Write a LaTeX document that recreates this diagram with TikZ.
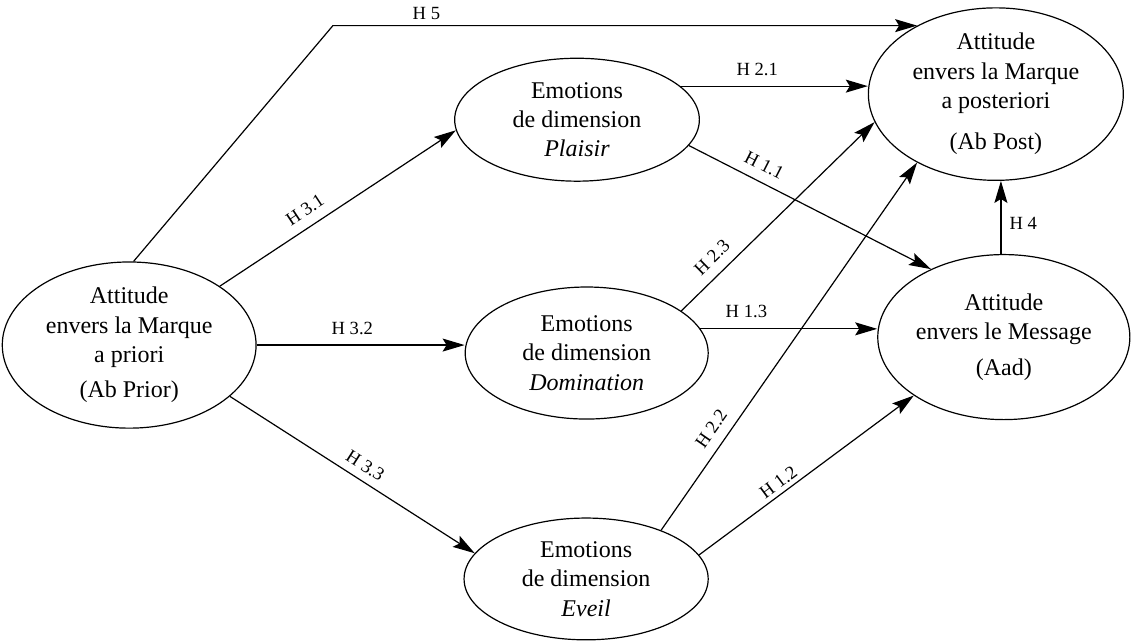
\documentclass[tikz,border=0pt]{standalone}
\usepackage{fontspec}
\setmainfont{Liberation Serif}
\usetikzlibrary{arrows.meta}
\usetikzlibrary{shapes.geometric}

\begin{document}
\begin{tikzpicture}
    \tikzstyle{construct}=[draw,ellipse,line width=0.6pt,inner sep=0pt,align=center,font=\fontsize{12}{14.7}\selectfont]
    \tikzstyle{hyp}=[draw,line width=0.6pt,-{Stealth[length=11pt,width=6.5pt,inset=2pt]}]
    \tikzstyle{hlabel}=[font=\fontsize{9.3}{11}\selectfont,inner sep=2pt]

    % page frame
    \useasboundingbox (0,0) rectangle (19.875,11.264);

    % brand attitude before exposure
    \node[construct,minimum width=4.46cm,minimum height=2.92cm] (prior) at (2.27,5.20)
      {Attitude\\envers la Marque\\a priori\\[3pt](Ab Prior)};

    % the three emotion dimensions
    \node[construct,minimum width=4.30cm,minimum height=2.16cm] (plaisir) at (10.14,9.16)
      {Emotions\\de dimension\\\textit{Plaisir}};
    \node[construct,minimum width=4.27cm,minimum height=2.32cm] (domin) at (10.31,5.06)
      {Emotions\\de dimension\\\textit{Domination}};
    \node[construct,minimum width=4.29cm,minimum height=2.14cm] (eveil) at (10.30,1.09)
      {Emotions\\de dimension\\\textit{Eveil}};

    % brand attitude after exposure and attitude towards the ad
    \node[construct,minimum width=4.48cm,minimum height=2.90cm] (post) at (17.50,9.61)
      {Attitude\\envers la Marque\\a posteriori\\[6pt](Ab Post)};
    \node[construct,minimum width=4.43cm,minimum height=2.90cm] (aad) at (17.64,5.34)
      {Attitude\\envers le Message\\[3pt](Aad)};

    % H 5 goes over the top
    \coordinate (h5bend) at (5.85,0 |- post.139);
    \draw[hyp] (prior.87) -- (h5bend) -- node[hlabel,above=0.5pt,pos=0.16] {H 5} (post.139);

    % H 3.x from the prior attitude
    \draw[hyp] (prior.33) -- node[hlabel,sloped,above=3pt,pos=0.40] {H 3.1} (plaisir.185);
    \draw[hyp] (prior.east) -- node[hlabel,above=3pt,pos=0.46] {H 3.2} (domin.west |- prior.east);
    \draw[hyp] (prior.-27) -- node[hlabel,sloped,above=2pt,pos=0.52] {H 3.3} (eveil.167);

    % H 2.x towards the posterior attitude
    \draw[hyp] (plaisir.18) -- node[hlabel,above=3pt,pos=0.41] {H 2.1} (plaisir.18 -| post.west);
    \draw[hyp] (domin.24) -- node[hlabel,sloped,above=3pt,pos=0.22] {H 2.3} (post.193);
    \draw[hyp] (eveil.33) -- node[hlabel,sloped,above=3pt,pos=0.25] {H 2.2} (post.221);

    % H 1.x towards the ad attitude
    \draw[hyp] (plaisir.-13) -- node[hlabel,sloped,above=3pt,pos=0.28] {H 1.1} (aad.137);
    \draw[hyp] (domin.12) -- node[hlabel,above=3pt,pos=0.26] {H 1.3} (domin.12 -| aad.west);
    \draw[hyp] (eveil.12) -- node[hlabel,sloped,above=0pt,pos=0.40] {H 1.2} (aad.213);

    % H 4
    \draw[hyp] (aad.92) -- node[hlabel,right=2pt,pos=0.42] {H 4} (aad.92 |- post.south);
\end{tikzpicture}
\end{document}
